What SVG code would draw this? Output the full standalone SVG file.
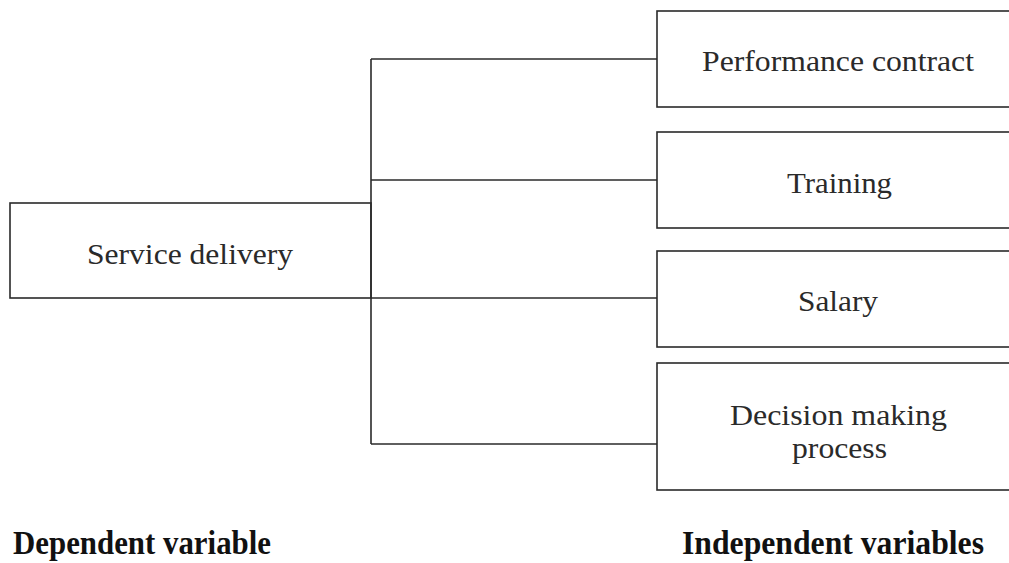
<svg xmlns="http://www.w3.org/2000/svg" width="1009" height="563" viewBox="0 0 1009 563">
<style>
.box{fill:none;stroke:#2a2a2a;stroke-width:1.6}
.ln{fill:none;stroke:#2a2a2a;stroke-width:1.6}
.t{font-family:"Liberation Serif","Times New Roman",serif;font-size:30px;fill:#2a2a2a}
.b{font-family:"Liberation Serif","Times New Roman",serif;font-size:33px;font-weight:bold;fill:#111}
</style>
<rect width="1009" height="563" fill="#fff"/>
<g id="connectors">
<path class="ln" d="M371 59 V444"/>
<path class="ln" d="M371 59 H657"/>
<path class="ln" d="M371 180 H657"/>
<path class="ln" d="M371 298 H657"/>
<path class="ln" d="M371 444 H657"/>
</g>
<g id="service-delivery">
<rect class="box" x="10" y="203" width="361" height="95"/>
<text class="t" x="87" y="264" textLength="206" lengthAdjust="spacingAndGlyphs">Service delivery</text>
</g>
<g id="performance-contract">
<rect class="box" x="657" y="11" width="360" height="96"/>
<text class="t" x="702" y="71" textLength="272" lengthAdjust="spacingAndGlyphs">Performance contract</text>
</g>
<g id="training">
<rect class="box" x="657" y="132" width="360" height="96"/>
<text class="t" x="787" y="193" textLength="105" lengthAdjust="spacingAndGlyphs">Training</text>
</g>
<g id="salary">
<rect class="box" x="657" y="251" width="360" height="96"/>
<text class="t" x="798" y="311" textLength="80" lengthAdjust="spacingAndGlyphs">Salary</text>
</g>
<g id="decision-making">
<rect class="box" x="657" y="363" width="360" height="127"/>
<text class="t" x="730" y="425" textLength="217" lengthAdjust="spacingAndGlyphs">Decision making</text>
<text class="t" x="792" y="458" textLength="95" lengthAdjust="spacingAndGlyphs">process</text>
</g>
<g id="labels">
<text class="b" x="13" y="554" textLength="258" lengthAdjust="spacingAndGlyphs">Dependent variable</text>
<text class="b" x="682" y="554" textLength="302" lengthAdjust="spacingAndGlyphs">Independent variables</text>
</g>
</svg>
